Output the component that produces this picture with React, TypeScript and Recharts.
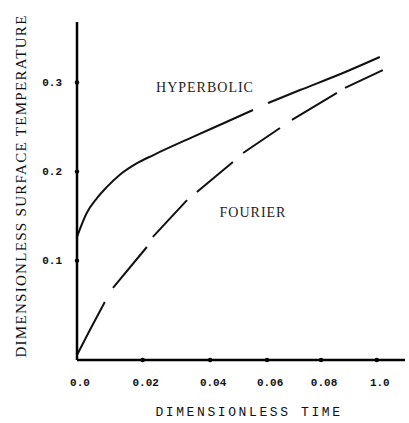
import React from "react";
import { LineChart, Line, XAxis, YAxis, ReferenceDot } from "recharts";

// values (gaps = null)
const hyperbolicTime = [0, 0.0032, 0.0066, 0.0099, 0.0143, 0.0199, 0.0255, 0.0387, 0.05, 0.0587, 0.061, 0.0637, 0.0744, 0.0887, 0.101];
const hyperbolicTemp = [0.1266, 0.1532, 0.17, 0.1825, 0.1965, 0.2092, 0.2186, 0.239, 0.256, 0.2692, null, 0.277, 0.2916, 0.3107, 0.3287];

const fourierTime = [0, 0.0043, 0.0093, 0.0105, 0.012, 0.0233, 0.0243, 0.0253, 0.0367, 0.0383, 0.04, 0.052, 0.0537, 0.0554, 0.0677, 0.0697, 0.0717, 0.0867, 0.088, 0.0894, 0.102];
const fourierTemp = [-0.006, 0.022, 0.0536, null, 0.0694, 0.1153, null, 0.1266, 0.168, null, 0.177, 0.2108, null, 0.2209, 0.249, null, 0.258, 0.2883, null, 0.294, 0.314];

const xTicks = [0, 0.0219, 0.0444, 0.0634, 0.0814, 0.1];
const xTickLabels = ["0.0", "0.02", "0.04", "0.06", "0.08", "1.0"];
const yTicks = [0.1, 0.2, 0.3];

const hyperbolicData = hyperbolicTime.map((t, i) => ({ time: t, temp: hyperbolicTemp[i] }));
const fourierData = fourierTime.map((t, i) => ({ time: t, temp: fourierTemp[i] }));

const tickFont = { fontFamily: "'Liberation Mono', monospace", fontSize: 11, fontWeight: 700, fill: "#111" };

const YTick = (props: any) => {
  const { x, y, payload } = props;
  return (
    <g>
      <circle cx={x} cy={y} r={2.2} fill="#000" />
      <text x={x - 15} y={y} textAnchor="end" dominantBaseline="central" {...tickFont}>
        {payload.value.toFixed(1)}
      </text>
    </g>
  );
};

const XTick = (props: any) => {
  const { x, y, index } = props;
  return (
    <g>
      {index > 0 && <circle cx={x} cy={y} r={2.2} fill="#000" />}
      <text x={x + 3} y={y + 23} textAnchor="middle" dominantBaseline="central" {...tickFont}>
        {xTickLabels[index]}
      </text>
    </g>
  );
};

const CurveLabel = (text: string) => (props: any) => {
  const { viewBox } = props;
  return (
    <text
      x={viewBox.x + viewBox.width / 2}
      y={viewBox.y + viewBox.height / 2}
      textAnchor="middle"
      dominantBaseline="central"
      fontFamily="'Liberation Serif', serif"
      fontSize={14}
      letterSpacing={1}
      fill="#222"
    >
      {text}
    </text>
  );
};

export default function App() {
  return (
    <div style={{ width: 409, height: 423, background: "#fff", position: "relative" }}>
      <style>{`body{margin:0}`}</style>
      <LineChart width={409} height={423} margin={{ top: 22, right: 4, bottom: 0, left: 0 }}>
        <XAxis
          dataKey="time"
          type="number"
          domain={[0, 0.1094]}
          ticks={xTicks}
          allowDataOverflow
          height={63}
          tickSize={0}
          tickMargin={0}
          tickLine={false}
          tick={<XTick />}
          axisLine={{ stroke: "#000", strokeWidth: 2.5 }}
          label={{
            content: () => (
              <text
                x={249}
                y={412}
                textAnchor="middle"
                dominantBaseline="central"
                fontFamily="'Liberation Mono', monospace"
                fontSize={13}
                letterSpacing={2.6}
                fill="#111"
              >
                DIMENSIONLESS TIME
              </text>
            ),
          }}
        />
        <YAxis
          type="number"
          domain={[-0.0116, 0.368]}
          ticks={yTicks}
          allowDataOverflow
          width={77}
          tickSize={0}
          tickMargin={0}
          tickLine={false}
          tick={<YTick />}
          axisLine={{ stroke: "#000", strokeWidth: 2.5 }}
          label={{
            content: () => (
              <text
                transform="translate(21,186) rotate(-90)"
                textAnchor="middle"
                dominantBaseline="central"
                fontFamily="'Liberation Serif', serif"
                fontSize={15}
                letterSpacing={1.3}
                fill="#111"
              >
                DIMENSIONLESS SURFACE TEMPERATURE
              </text>
            ),
          }}
        />
        <Line data={hyperbolicData} dataKey="temp" type="monotone" stroke="#111" strokeWidth={2}
          dot={false} connectNulls={false} isAnimationActive={false} />
        <Line data={fourierData} dataKey="temp" type="monotone" stroke="#111" strokeWidth={2}
          dot={false} connectNulls={false} isAnimationActive={false} />
        <ReferenceDot x={0.0427} y={0.295} r={0} fill="none" stroke="none" label={{ content: CurveLabel("HYPERBOLIC") }} />
        <ReferenceDot x={0.0587} y={0.1535} r={0} fill="none" stroke="none" label={{ content: CurveLabel("FOURIER") }} />
      </LineChart>
    </div>
  );
}
